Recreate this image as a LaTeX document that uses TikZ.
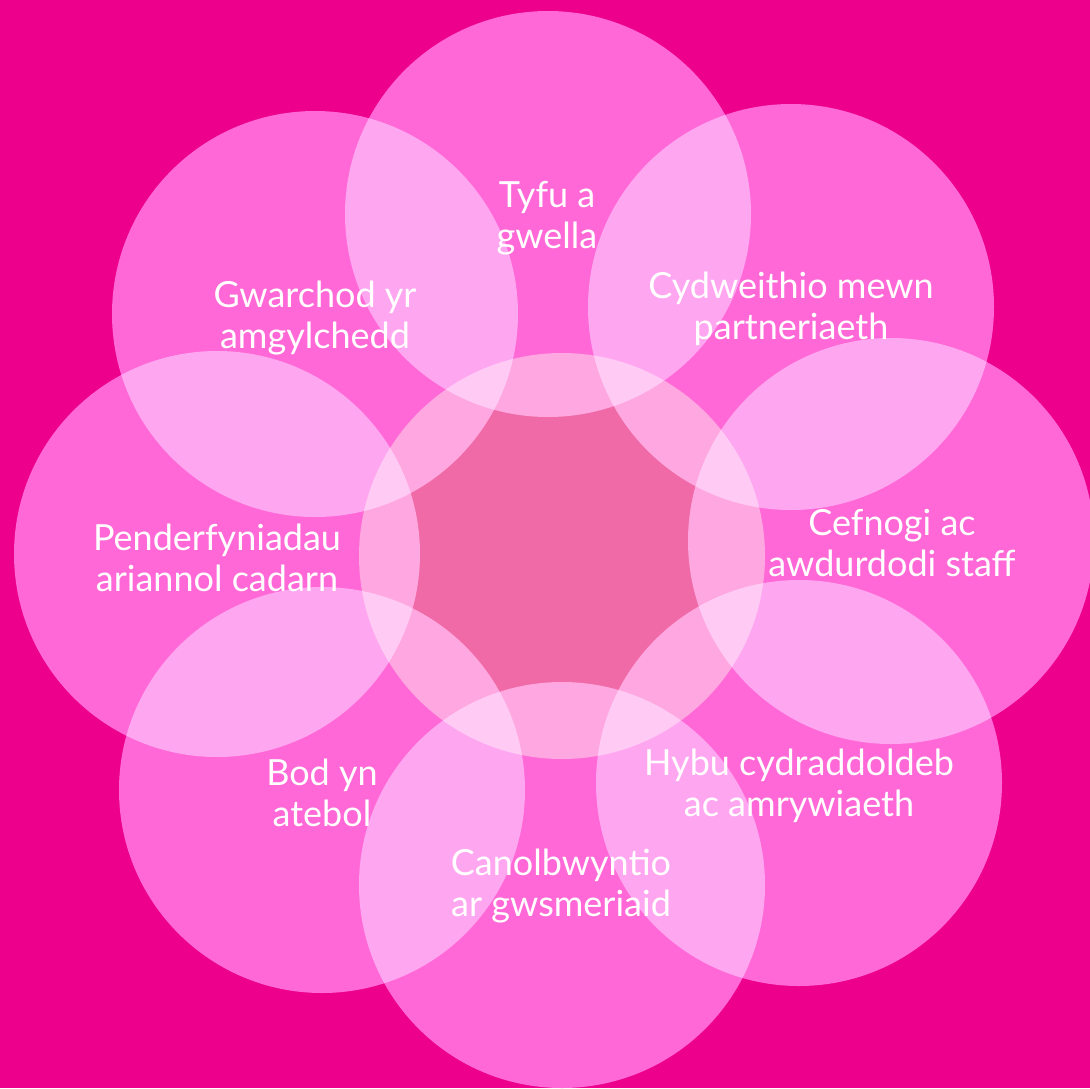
\documentclass[tikz,border=0pt]{standalone}
\usepackage{fontspec}
\setmainfont{Lato}
\definecolor{bgpink}{RGB}{236,0,140}
\definecolor{centerpink}{RGB}{239,106,166}
\definecolor{screenpink}{RGB}{255,104,164}
\tikzset{
  petal/.style={circle, fill=screenpink, minimum size=406pt, inner sep=0pt},
  hub/.style={circle, fill=centerpink, minimum size=406pt, inner sep=0pt},
  lbl/.style={text=white, align=center, font=\fontsize{36}{41}\selectfont, inner sep=0pt}
}
\begin{document}
\begin{tikzpicture}[x=1pt,y=-1pt]
\fill[bgpink] (0,0) rectangle (1090,1088);
\useasboundingbox (0,0) rectangle (1090,1088);
\node[hub] (hub) at (562,556) {};
\begin{scope}[blend mode=screen]
\node[petal] (pT)  at (548,214) {};
\node[petal] (pTL) at (315,314) {};
\node[petal] (pTR) at (791,307) {};
\node[petal] (pR)  at (891,541) {};
\node[petal] (pBR) at (799,783) {};
\node[petal] (pB)  at (562,885) {};
\node[petal] (pBL) at (322,790) {};
\node[petal] (pL)  at (217,554) {};
\end{scope}
\node[lbl] (tT)  at (547,218) {Tyfu a\\gwella};
\node[lbl] (tTL) at (315,318) {Gwarchod yr\\amgylchedd};
\node[lbl] (tTR) at (791,309) {Cydweithio mewn\\partneriaeth};
\node[lbl] (tR)  at (892,543) {Cefnogi ac\\awdurdodi staff};
\node[lbl] (tBR) at (799,786) {Hybu cydraddoldeb\\ac amrywiaeth};
\node[lbl] (tB)  at (561,886) {Canolbwyntio\\ar gwsmeriaid};
\node[lbl] (tBL) at (322,793) {Bod yn\\atebol};
\node[lbl] (tL)  at (217,558) {Penderfyniadau\\ariannol cadarn};
\end{tikzpicture}
\end{document}
